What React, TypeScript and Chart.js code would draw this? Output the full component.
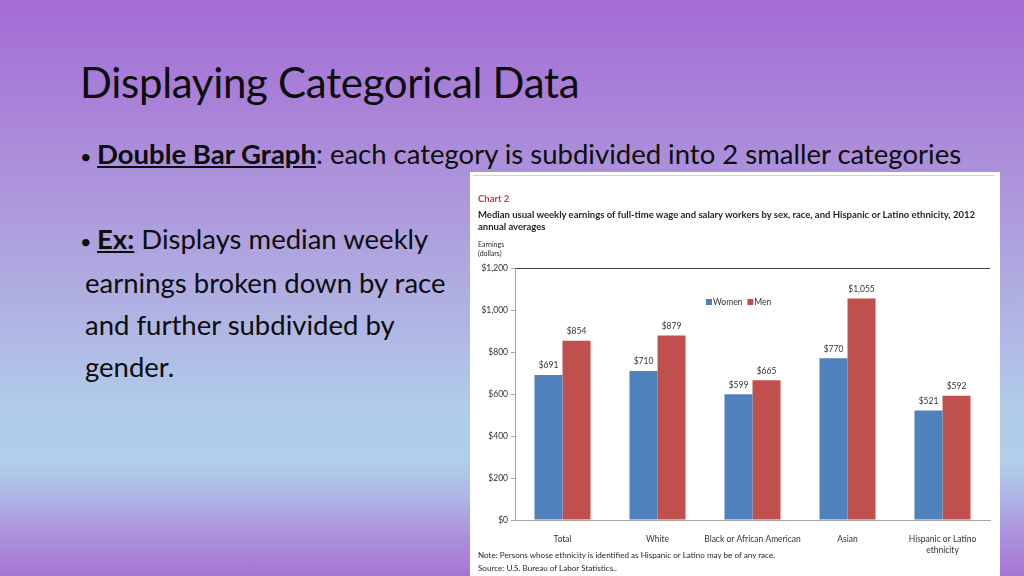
import React, { useEffect, useRef } from "react";
import { Chart, registerables } from "chart.js";

Chart.register(...registerables);

const categories: (string | string[])[] = [
  "Total",
  "White",
  "Black or African American",
  "Asian",
  ["Hispanic or Latino", "ethnicity"],
];
const seriesNames = ["Women", "Men"];
const women = [691, 710, 599, 770, 521];
const men = [854, 879, 665, 1055, 592];
const yMin = 0;
const yMax = 1200;
const yStep = 200;

const BLUE = "#4F81BD";
const RED = "#C0504D";
const FONT = "Lato, 'Open Sans', sans-serif";

const fmt = (v: number) => "$" + v.toLocaleString("en-US");

const valueLabels = {
  id: "valueLabels",
  afterDatasetsDraw(chart: any) {
    const ctx = chart.ctx;
    ctx.save();
    ctx.font = `8.5px ${FONT}`;
    ctx.fillStyle = "#333333";
    ctx.textAlign = "center";
    ctx.textBaseline = "bottom";
    chart.data.datasets.forEach((ds: any, i: number) => {
      const meta = chart.getDatasetMeta(i);
      meta.data.forEach((el: any, j: number) => {
        ctx.fillText(fmt(ds.data[j]), el.x, el.y - 5);
      });
    });
    ctx.restore();
  },
};

const innerLegend = {
  id: "innerLegend",
  afterDraw(chart: any) {
    const { ctx, chartArea } = chart;
    ctx.save();
    ctx.font = `8.5px ${FONT}`;
    ctx.textBaseline = "middle";
    ctx.textAlign = "left";
    let x = chartArea.left + 191;
    const y = chartArea.top + 34;
    chart.data.datasets.forEach((ds: any) => {
      ctx.fillStyle = ds.backgroundColor;
      ctx.fillRect(x, y - 3, 6, 6);
      x += 7;
      ctx.fillStyle = "#333333";
      ctx.fillText(ds.label, x, y);
      x += ctx.measureText(ds.label).width + 5;
    });
    ctx.restore();
  },
};

function ChartBox() {
  const ref = useRef<HTMLCanvasElement | null>(null);
  useEffect(() => {
    if (!ref.current) return;
    const chart = new Chart(ref.current, {
      type: "bar",
      data: {
        labels: categories as any,
        datasets: [
          {
            label: seriesNames[0],
            data: women,
            backgroundColor: BLUE,
            categoryPercentage: 0.59,
            barPercentage: 1.0,
          },
          {
            label: seriesNames[1],
            data: men,
            backgroundColor: RED,
            categoryPercentage: 0.59,
            barPercentage: 1.0,
          },
        ],
      },
      options: {
        animation: false,
        responsive: false,
        maintainAspectRatio: false,
        layout: { padding: { left: 0, top: 96, right: 10, bottom: 18 } },
        plugins: {
          legend: { display: false },
          tooltip: { enabled: false },
          title: { display: false },
        },
        scales: {
          x: {
            grid: { display: false },
            border: { display: true, color: "#a6a6a6" },
            ticks: {
              font: { family: FONT, size: 8.5, lineHeight: 1.3 },
              color: "#333333",
              padding: 6,
              maxRotation: 0,
              autoSkip: false,
            },
            afterFit: (s: any) => {
              s.height = 38;
            },
          },
          y: {
            min: yMin,
            max: yMax,
            ticks: {
              stepSize: yStep,
              font: { family: FONT, size: 8.5 },
              color: "#333333",
              padding: 3,
              callback: (v: any) => fmt(Number(v)),
            },
            grid: {
              drawTicks: true,
              tickLength: 4,
              tickColor: "#a6a6a6",
              color: (c: any) =>
                c.tick && c.tick.value === yMax ? "#404040" : "rgba(0,0,0,0)",
            },
            border: { display: true, color: "#a6a6a6" },
            afterFit: (s: any) => {
              s.width = 45;
            },
          },
        },
      },
      plugins: [valueLabels, innerLegend],
    });
    return () => chart.destroy();
  }, []);
  return (
    <canvas
      ref={ref}
      width={530}
      height={404}
      style={{ position: "absolute", left: 0, top: 0, width: 530, height: 404 }}
    />
  );
}

export default function App() {
  return (
    <div
      style={{
        position: "absolute",
        left: 0,
        top: 0,
        width: 1024,
        height: 576,
        overflow: "hidden",
        background:
          "linear-gradient(to bottom, #A46CD5 0%, #A982D8 18%, #AE9CDD 38%, #B0B8E4 58%, #B0CDEB 72%, #B0CFEB 80%, #AFB6E5 86%, #AC96DD 92%, #A774D5 100%)",
        fontFamily: FONT,
        color: "#0d0d0d",
      }}
    >
      <div
        style={{
          position: "absolute",
          left: 80,
          top: 57,
          fontSize: 42,
          whiteSpace: "nowrap",
          letterSpacing: -0.3,
          lineHeight: "50px",
        }}
      >
        Displaying Categorical Data
      </div>
      <div
        style={{
          position: "absolute",
          left: 80,
          top: 137,
          fontSize: 27.5,
          whiteSpace: "nowrap",
          lineHeight: "34px",
        }}
      >
        <span style={{ display: "inline-block", width: 17, fontSize: 20 }}>•</span>
        <b style={{ textDecoration: "underline" }}>Double Bar Graph</b>: each category is subdivided into 2 smaller categories
      </div>
      <div
        style={{
          position: "absolute",
          left: 80,
          top: 218,
          fontSize: 27.5,
          whiteSpace: "nowrap",
          lineHeight: "42px",
        }}
      >
        <div>
          <span style={{ display: "inline-block", width: 17, fontSize: 20 }}>•</span>
          <b style={{ textDecoration: "underline" }}>Ex:</b> Displays median weekly
        </div>
        <div style={{ paddingLeft: 5 }}>earnings broken down by race</div>
        <div style={{ paddingLeft: 5 }}>and further subdivided by</div>
        <div style={{ paddingLeft: 5 }}>gender.</div>
      </div>

      <div
        style={{
          position: "absolute",
          left: 470,
          top: 172,
          width: 530,
          height: 404,
          background: "#ffffff",
        }}
      >
        <div
          style={{
            position: "absolute",
            left: 3,
            right: 6,
            top: 3,
            height: 1,
            background: "#cfcfd8",
          }}
        />
        <ChartBox />
        <div
          style={{
            position: "absolute",
            left: 8,
            top: 21,
            fontSize: 9.5,
            fontWeight: 700,
            color: "#D2344A",
            whiteSpace: "nowrap",
          }}
        >
          Chart 2
        </div>
        <div
          style={{
            position: "absolute",
            left: 8,
            top: 37,
            fontSize: 9.5,
            fontWeight: 700,
            color: "#231F20",
            whiteSpace: "nowrap",
            lineHeight: "12px",
          }}
        >
          <div>
            Median usual weekly earnings of full-time wage and salary workers by sex, race, and Hispanic or Latino ethnicity, 2012
          </div>
          <div>annual averages</div>
        </div>
        <div
          style={{
            position: "absolute",
            left: 8,
            top: 68,
            fontSize: 7,
            color: "#231F20",
            whiteSpace: "nowrap",
            lineHeight: "8.5px",
          }}
        >
          <div>Earnings</div>
          <div>(dollars)</div>
        </div>
        <div
          style={{
            position: "absolute",
            left: 8,
            top: 377,
            fontSize: 8.1,
            color: "#231F20",
            whiteSpace: "nowrap",
            lineHeight: "13px",
          }}
        >
          <div>Note: Persons whose ethnicity is identified as Hispanic or Latino may be of any race.</div>
          <div>Source: U.S. Bureau of Labor Statistics..</div>
        </div>
      </div>
    </div>
  );
}
